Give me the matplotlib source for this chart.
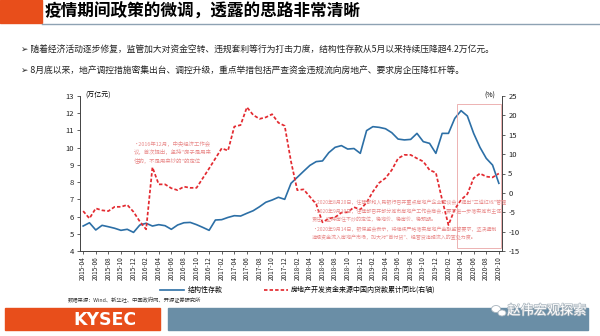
import pandas as pd
import matplotlib
matplotlib.use("Agg")
import matplotlib.pyplot as plt
import matplotlib.patheffects as pe
from matplotlib.patches import Rectangle, Ellipse

plt.rcParams['font.family'] = ['Noto Sans CJK SC', 'DejaVu Sans']
plt.rcParams['axes.unicode_minus'] = False

# 月度数据：2015-04 ~ 2020-10
months = pd.date_range('2015-04-01', '2020-10-01', freq='MS').strftime('%Y-%m').tolist()

# 结构性存款（万亿元，左轴）
struct_deposit = [
    5.45, 5.64, 5.22, 5.49, 5.41, 5.32, 5.20, 5.26, 5.08, 5.51, 5.61, 5.45,
    5.53, 5.47, 5.26, 5.51, 5.64, 5.66, 5.53, 5.37, 5.20, 5.80, 5.82, 5.95,
    6.05, 6.03, 6.19, 6.34, 6.57, 6.83, 6.96, 7.12, 7.00, 7.93, 8.28, 8.63,
    8.97, 9.19, 9.23, 9.71, 10.02, 10.12, 9.92, 9.95, 9.67, 10.99, 11.22, 11.18,
    11.10, 10.87, 10.50, 10.45, 10.48, 10.83, 10.35, 10.25, 9.67, 10.83, 10.83, 11.70,
    12.15, 11.84, 10.83, 10.02, 9.38, 8.99, 7.93,
]

# 房地产开发资金来源中国内贷款累计同比（%，右轴）
re_loan_yoy = [
    -4.7, -6.6, -4.0, -4.5, -4.7, -3.6, -3.6, -3.1, -4.9, -7.4, -9.4, 6.6,
    2.2, 2.2, 1.2, 0.7, 1.6, 1.3, 1.3, 3.8, 6.3, 8.9, 11.5, 10.9,
    17.1, 17.5, 22.1, 20.1, 19.1, 19.5, 20.3, 18.1, 17.3, 8.1, 0.7, 0.9,
    -1.0, -2.9, -7.6, -6.6, -6.3, -5.1, -5.0, -3.7, -4.3, -2.5, 0.3, 2.6,
    3.8, 5.9, 8.9, 9.8, 9.8, 8.9, 8.1, 5.9, 5.2, -1.8, -8.3, -4.2,
    -1.8, -0.3, 3.8, 5.0, 4.2, 4.0, 5.0,
]

# 高亮区间（月序号 / 右轴数值）
highlight_x = (59.3, 66.4)
highlight_y = (-14.2, 22.9)

title = '疫情期间政策的微调，透露的思路非常清晰'
bullets = [
    '➢ 随着经济活动逐步修复，监管加大对资金空转、违规套利等行为打击力度，结构性存款从5月以来持续压降超4.2万亿元。',
    '➢ 8月底以来，地产调控措施密集出台、调控升级，重点举措包括严查资金违规流向房地产、要求房企压降杠杆等。',
]
note_2016 = ('•2016年12月，中央经济工作会\n'
             '议，首次提出，坚持"房子是用来\n'
             '住的，不是用来炒的"的定位')
notes_2020 = [
    '•2020年8月20日，住建部和人民银行召开重点房地产企业座谈会，提出"三道红线"管理',
    '•2020年9月10日，住建部召开部分城市房地产工作会商会，要求进一步落实城市主体\n'
    '责任，坚持房住不炒的定位，稳地价、稳房价、稳预期。',
    '•2020年9月14日，银保监会表示，将继续严格落实房地产金融监管要求，坚决遏制\n'
    '违规资金流入房地产市场，加大对"首付贷"、经营贷违规流入的查处力度。',
]

BLUE = '#2c6fa6'
RED = '#e32a30'
PINK = '#e98c8c'
ORANGE = '#e84e1b'


def fx(x):
    return x / 600


def fy(y):
    return 1 - y / 336


fig = plt.figure(figsize=(6, 3.36), dpi=100)

# 页眉
fig.patches.append(Rectangle((0, fy(23)), fx(42), 23 / 336, transform=fig.transFigure,
                             color=ORANGE, zorder=0))
fig.add_artist(plt.Line2D([fx(42), 1], [fy(23.5), fy(23.5)], transform=fig.transFigure,
                          color='#8ea2b3', lw=1.0))
fig.text(fx(45), fy(12), title, fontsize=12, fontweight='bold', va='center', ha='left')
for i, line in enumerate(bullets):
    fig.text(fx(21), fy(50 + 20 * i), line, fontsize=6.35, va='center', ha='left',
             color='#222222')

# 主图
ax = fig.add_axes([fx(80), fy(251), fx(502) - fx(80), (251 - 96) / 336])
ax2 = ax.twinx()
x = list(range(len(months)))

l1, = ax.plot(x, struct_deposit, color=BLUE, lw=1.2, label='结构性存款')
l2, = ax2.plot(x, re_loan_yoy, color=RED, lw=1.25, ls=(0, (2.0, 1.2)),
               label='房地产开发资金来源中国内贷款累计同比(右轴)')

ax.set_xlim(-0.5, len(months) - 0.5)
ax.set_ylim(4, 13)
ax.set_yticks(range(4, 14))
ax2.set_ylim(-15, 25)
ax2.set_yticks(range(-15, 26, 5))
ax.set_xticks(x[::2])
ax.set_xticklabels(months[::2], rotation=90, fontsize=4.6)

for a in (ax, ax2):
    a.spines['top'].set_visible(False)
    for s in a.spines.values():
        s.set_linewidth(0.6)
        s.set_color('#444444')
    a.tick_params(axis='both', length=2.5, width=0.5, labelsize=5.5, pad=2,
                  colors='#222222')
ax.tick_params(axis='x', labelsize=4.6, pad=1.5)

ax.text(0.012, 1.0, '(万亿元)', transform=ax.transAxes, fontsize=5, ha='left', va='center')
ax.text(0.985, 1.0, '(%)', transform=ax.transAxes, fontsize=5, ha='right', va='center')

ax2.add_patch(Rectangle((highlight_x[0], highlight_y[0]),
                        highlight_x[1] - highlight_x[0], highlight_y[1] - highlight_y[0],
                        fill=False, edgecolor='#eaa6a6', lw=0.6))

fig.text(fx(134), fy(140), note_2016, fontsize=3.9, color=PINK, va='top', ha='left',
         linespacing=1.55)
note_y = [202, 215.5, 233.5]
for t, yy in zip(notes_2020, note_y):
    fig.text(fx(312), fy(yy), t, fontsize=3.6, color=PINK, va='center', ha='left',
             linespacing=1.5)

fig.legend(handles=[l1, l2], loc='center', bbox_to_anchor=(fx(298), fy(290)), ncol=2,
           frameon=False, fontsize=5.0, handlelength=3.4, columnspacing=6.0,
           handletextpad=0.5)

fig.text(fx(68), fy(300), '数据来源：Wind、新华社、中国政府网、开源证券研究所', fontsize=3.8,
         va='center', ha='left', color='#333333')

# 页脚
fig.patches.append(Rectangle((fx(5), fy(330)), fx(155), 22 / 336, transform=fig.transFigure,
                             color=ORANGE, zorder=0))
fig.patches.append(Rectangle((fx(168), fy(330)), fx(420), 22 / 336,
                             transform=fig.transFigure, color='#6a8ea6', zorder=0))
fig.text(fx(105), fy(320), 'KYSEC', fontsize=12.5, fontweight='bold', color='white',
         family='DejaVu Sans', ha='center', va='center')
wm = fig.text(fx(547), fy(311), '赵伟宏观探索', fontsize=9.5, color='white', ha='center',
              va='center')
wm.set_path_effects([pe.withStroke(linewidth=1.0, foreground='#a8b4bd')])
# 微信图标
for cx, cy, w, h in [(496, 309, 9, 7), (502, 313, 8, 6)]:
    fig.patches.append(Ellipse((fx(cx), fy(cy)), w / 600, h / 336, transform=fig.transFigure,
                               facecolor='white', edgecolor='#a8b4bd', lw=0.6, zorder=3))

fig.savefig('out.png', dpi=100)
